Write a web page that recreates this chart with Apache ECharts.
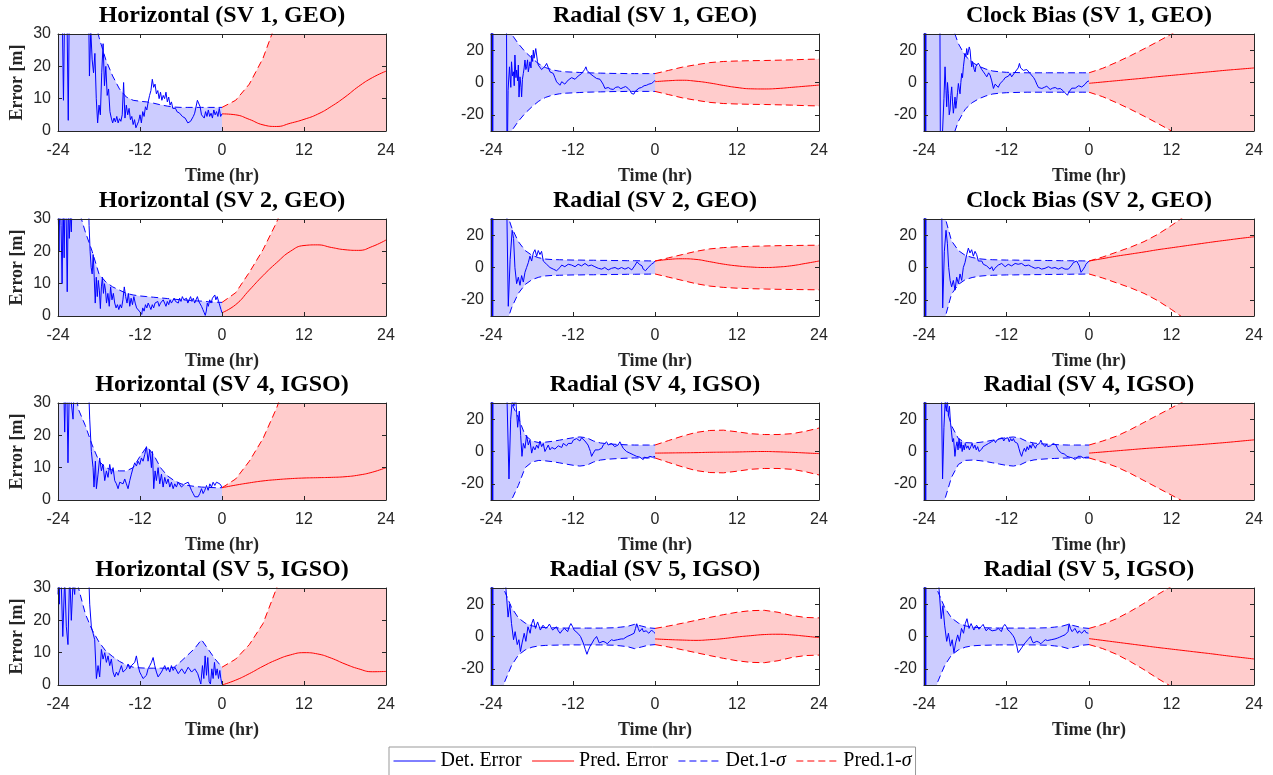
<!DOCTYPE html>
<html><head><meta charset="utf-8">
<script src="https://cdn.jsdelivr.net/npm/echarts@6/dist/echarts.min.js"></script>
<style>html,body{margin:0;padding:0;background:#fff}#c{width:1273px;height:775px}</style>
</head><body><div id="c"></div>
<script>
// ---------------- DATA ----------------
const titles = ['Horizontal (SV 1, GEO)','Radial (SV 1, GEO)','Clock Bias (SV 1, GEO)',
  'Horizontal (SV 2, GEO)','Radial (SV 2, GEO)','Clock Bias (SV 2, GEO)',
  'Horizontal (SV 4, IGSO)','Radial (SV 4, IGSO)','Radial (SV 4, IGSO)',
  'Horizontal (SV 5, IGSO)','Radial (SV 5, IGSO)','Radial (SV 5, IGSO)'];
const kinds = ['h','r','r','h','r','r','h','r','r','h','r','r'];
const xTicks = [-24,-12,0,12,24];
const yTicksH = [0,10,20,30];
const yTicksR = [-20,0,20];
const detTime = [-24,-23,-22,-21,-20,-19,-18,-17,-16,-15,-14,-13,-12,-11,-10,-9,-8,-7,-6,-5,-4,-3,-2,-1,0];
const predTime = [0,2,4,6,8,10,12,14,16,18,20,22,24];

// 1-sigma of determination (hourly, -24..0)
const detSig1 = [200,150,110,80,55,38,29,22,17,13,10.5,9.5,9.2,9,8.6,8.1,7.7,7.4,7.3,7.3,7.3,7.3,7.3,7.3,7.3];
const detSig2 = [150,90,50,30,24,19,15,11.5,9.2,7.8,7,6.6,6.4,6.2,6,5.9,5.8,5.7,5.6,5.6,5.5,5.5,5.5,5.5,5.5];
const detSig3 = [150,90,55,42,36,24,16.5,12.5,10,8.3,7.1,6.6,6.3,6.2,6.1,6,6,6,6,6,6,6,6,6,6];
const detSig4 = [150,100,60,33,26,20,13,10.5,9,8,7,6.5,6.2,6,5.8,5.6,5.4,5.2,5,4.9,4.7,4.6,4.4,4.3,4.2];
const detSig5 = [150,90,38,25,16,10.5,7.5,6,5.2,4.9,4.8,4.7,4.6,4.6,4.5,4.5,4.4,4.4,4.3,4.3,4.2,4.2,4.1,4.1,4];
const detSig6 = [150,90,50,32,16.5,10.5,7.5,6.2,5.4,5,4.8,4.7,4.6,4.6,4.5,4.5,4.4,4.4,4.3,4.3,4.2,4.2,4.1,4.1,4];
const detSig7 = [150,90,40,28,23,17,12,10,9.2,9,9,10,13.5,16.5,14,10,7.5,6,5,4.5,4.2,4,3.9,3.8,3.8];
const detSig8 = [150,90,42,30,21,10,6.5,5.5,5.8,6.3,7,7.8,8.5,9,8.5,6.5,5.3,4.8,4.5,4.3,4.1,4,4,4,4];
const detSig9 = [150,90,45,30,16,8,5.5,5.3,5.6,6.2,7,7.8,8.6,9,8.2,6.2,5.2,4.8,4.5,4.3,4.1,4,4,4,4];
const detSig10 = [150,90,40,30,22,17,13.3,10.5,8.8,7.3,6.2,5.5,5.3,5.2,5.2,5.2,5.2,5.5,7.3,9.3,11.3,14,11,8,5.5];
const detSig11 = [150,45,28,18,11.5,8.3,6.6,5.8,5.5,5.4,5.3,5.2,5.2,5.2,5.2,5.2,5.2,5.3,5.4,5.8,6.3,7.5,6.5,5.4,5];
const detSig12 = [150,45,28,18,11.5,8.3,6.6,5.8,5.5,5.4,5.3,5.2,5.2,5.2,5.2,5.2,5.2,5.3,5.4,5.8,6.3,7.5,6.5,5.4,5];

// 1-sigma of prediction (every 2 h, 0..24)
const predSig1 = [7.3,9.5,14.5,22.5,34,48,64,82,100,120,140,160,180];
const predSig2 = [5.5,7.5,9.5,11,12.3,13,13.3,13.5,13.6,13.8,14,14.3,14.5];
const predSig3 = [6,8.8,12.5,16.5,20.8,25.3,30,35,40,45,50,55,60];
const predSig4 = [4.2,7.2,13.5,20.5,29,40,52,65,79,94,110,126,142];
const predSig5 = [4,6,8,10,11.5,12.3,12.8,13.1,13.3,13.5,13.6,13.7,13.8];
const predSig6 = [4,6.5,9.5,12.5,16,20.5,26,32,38,44,50,56,62];
const predSig7 = [3.8,6.5,12,19,28.5,40,53,67,82,98,115,132,150];
const predSig8 = [4,6.8,9.5,11.8,13,13.2,12.2,11,10.5,10.5,11,12.5,14.5];
const predSig9 = [4,6.5,9.5,13.5,18,22.5,27,31.5,36,41,46,51,57];
const predSig10 = [5.5,8,12.5,19,30,42,56,71,87,104,122,140,160];
const predSig11 = [5,6.5,8.2,10,11.8,13.5,15,16,16.2,15,13,11.8,11.5];
const predSig12 = [5,7.5,11,15.5,20.5,26,31,37,43,49,55,61,68];

// prediction error (every 2 h, 0..24)
const predErr1 = [5.3,5.0,3.6,1.9,1.4,2.4,3.6,5.2,7.6,10.5,13.8,16.5,18.5];
const predErr2 = [0.5,1.1,1.4,0.8,-0.3,-1.8,-3.1,-3.9,-4.0,-3.7,-3.0,-2.3,-1.6];
const predErr3 = [-0.5,0.3,1.1,1.9,2.7,3.6,4.4,5.2,6.0,6.8,7.6,8.3,9.0];
const predErr4 = [1.0,3.5,8.0,12.5,16.5,20.0,21.8,22.0,21.2,20.5,20.3,21.5,23.5];
const predErr5 = [4.0,5.0,5.4,5.0,3.6,2.1,1.0,0.3,0.0,0.3,1.1,2.5,4.0];
const predErr6 = [4,5.5,7,8.3,9.6,11,12.2,13.4,14.6,15.8,16.9,18,19];
const predErr7 = [3.8,4.6,5.3,5.9,6.3,6.6,6.8,6.9,7.0,7.2,7.7,8.6,10.0];
const predErr8 = [-1,-0.9,-0.8,-0.7,-0.5,-0.4,-0.3,-0.1,0,-0.2,-0.5,-0.9,-1.3];
const predErr9 = [-1,-0.3,0.4,1.1,1.8,2.4,3.0,3.6,4.2,4.9,5.6,6.4,7.2];
const predErr10 = [0,1.5,3.5,5.8,7.8,9.3,10,9.6,8.3,6.5,5,4.1,4.2];
const predErr11 = [-1.5,-1.9,-2.2,-2.4,-2.0,-1.3,-0.3,0.5,1.2,1.4,1.0,0.2,-0.7];
const predErr12 = [-1.3,-2.4,-3.5,-4.6,-5.7,-6.8,-7.8,-8.8,-9.8,-10.8,-11.9,-12.9,-13.9];

// determination error [time (h), value]
const detErr1 = [[-24,45],[-23.4,40],[-23.2,9.5],[-23.0,42],[-22.7,38],[-22.5,3.3],[-22.3,50],[-21,70],[-20,55],[-19.5,35],[-19.4,17],[-19.2,31],[-19.0,22],[-18.8,18],[-18.6,24],[-18.4,10],[-18.2,2.5],[-18.0,8],[-17.8,5],[-17.6,18],[-17.4,27],[-17.2,14],[-17.0,20],[-16.8,11],[-16.6,13],[-16.4,6],[-16.2,4],[-16.0,2.5],[-15.8,4],[-15.6,2.8],[-15.4,4.5],[-15.2,2.5],[-15.0,3.8],[-14.8,3],[-14.6,5],[-14.4,15],[-14.2,4],[-14.0,8],[-13.8,5],[-13.6,7],[-13.4,3.5],[-13.2,4.5],[-13.0,2],[-12.8,3.5],[-12.6,1],[-12.4,0.5],[-12.2,3],[-12.0,5],[-11.8,2.5],[-11.6,6],[-11.4,4.5],[-11.2,7.5],[-11.0,6.5],[-10.8,9],[-10.6,11],[-10.4,12.5],[-10.2,16],[-10.0,13.5],[-9.8,14.5],[-9.6,11.5],[-9.4,12.5],[-9.2,10],[-9.0,12],[-8.8,9.5],[-8.6,11],[-8.4,10],[-8.2,12],[-8.0,9],[-7.8,10.5],[-7.6,8],[-7.4,9],[-7.2,7],[-7.0,6.5],[-6.8,7],[-6.6,6],[-6.4,6.5],[-6.2,5.5],[-6.0,5],[-5.8,4.5],[-5.6,4.8],[-5.4,4],[-5.2,3.5],[-5.0,2.5],[-4.8,2],[-4.6,3],[-4.4,3.5],[-4.2,4.5],[-4.0,5.5],[-3.8,6],[-3.6,9.5],[-3.4,10],[-3.2,7.5],[-3.0,5],[-2.8,5.5],[-2.6,4],[-2.4,6],[-2.2,4.5],[-2.0,6.5],[-1.8,4.5],[-1.6,5.5],[-1.4,4],[-1.2,6.5],[-1.0,5],[-0.8,6],[-0.6,4.5],[-0.4,7],[-0.2,4.5],[0,5.3]];
const detErr2 = [[-24,60],[-23.95,-60],[-23.9,60],[-23.85,-60],[-23.8,60],[-23.75,-60],[-23.7,50],[-22,55],[-21.75,60],[-21.65,-60],[-21.5,-5],[-21.3,9.7],[-21.1,-3],[-21.0,12.8],[-20.85,4],[-20.7,6.6],[-20.6,-2],[-20.5,17],[-20.35,3],[-20.25,7.7],[-20.1,1],[-20.0,10.8],[-19.9,-9],[-19.76,3.5],[-19.6,-3],[-19.52,-8.9],[-19.4,2],[-19.27,5.6],[-19.15,9],[-19.03,13.9],[-18.9,8],[-18.79,9.7],[-18.65,14],[-18.54,6.6],[-18.4,10],[-18.3,12.8],[-18.15,9],[-18.05,17],[-17.9,13],[-17.81,20],[-17.7,15],[-17.57,16],[-17.45,21],[-17.32,20],[-17.2,13],[-17.08,10.8],[-16.95,12],[-16.84,9.7],[-16.6,8],[-16.35,7.7],[-16.1,10],[-15.86,11.8],[-15.6,9],[-15.37,6.6],[-15.1,7.5],[-14.89,5.6],[-14.65,3],[-14.4,0.4],[-14.15,1.5],[-13.91,-1.7],[-13.65,0.5],[-13.42,0.4],[-13.2,-1],[-12.94,-0.6],[-12.7,1.5],[-12.45,1.4],[-12.2,3],[-11.96,3.9],[-11.7,2],[-11.48,2.5],[-11.25,4],[-10.99,4.6],[-10.75,5.5],[-10.5,6.6],[-10.3,8],[-10.11,9.7],[-9.95,7.5],[-9.77,6.6],[-9.5,5.5],[-9.28,5.2],[-9.05,4],[-8.8,3.5],[-8.55,2.5],[-8.31,1.4],[-8.05,2],[-7.82,1.4],[-7.6,-1],[-7.33,-3.7],[-7.1,-2.5],[-6.85,-3.1],[-6.5,-4],[-6.12,-4.3],[-5.75,-3],[-5.38,-2.7],[-5.0,-3.8],[-4.65,-3.1],[-4.3,-2.5],[-3.92,-3.7],[-3.65,-5],[-3.43,-6.8],[-3.09,-7.2],[-2.9,-5.5],[-2.7,-4.3],[-2.35,-3.5],[-1.97,-3.1],[-1.6,-2],[-1.24,-1.7],[-0.9,-1],[-0.51,-0.6],[-0.2,0.4],[0,1.4]];
const detErr3 = [[-24,60],[-23.95,-60],[-23.9,60],[-23.85,-60],[-23.8,60],[-23.75,-60],[-23.7,50],[-21.7,55],[-21.6,-60],[-21.4,-40],[-21.1,-10],[-20.94,9.7],[-20.8,-5],[-20.7,-15],[-20.58,0],[-20.46,-7],[-20.33,-20],[-20.21,-17],[-20.1,-8],[-19.97,-2.7],[-19.85,-12],[-19.73,-19],[-19.6,-14],[-19.49,-9],[-19.37,-16],[-19.24,-11],[-19.12,-6],[-19.0,-0.6],[-18.88,-4],[-18.76,-7],[-18.64,0],[-18.51,5.6],[-18.4,3],[-18.27,9.7],[-18.15,14],[-18.03,18],[-17.9,16],[-17.79,21],[-17.65,17],[-17.54,16],[-17.42,22],[-17.3,20],[-17.18,14],[-17.06,9.7],[-16.94,13],[-16.82,11.8],[-16.7,8],[-16.57,6.6],[-16.45,10],[-16.33,9.7],[-16.1,12],[-15.84,10.8],[-15.6,8],[-15.36,6.6],[-15.1,5],[-14.87,3.5],[-14.6,6],[-14.39,4.6],[-14.15,1],[-13.9,-3.7],[-13.65,-1],[-13.42,-1.7],[-13.2,-3],[-12.93,-0.6],[-12.7,0.5],[-12.45,1.4],[-12.2,3],[-11.96,2.5],[-11.7,4],[-11.48,5.6],[-11.25,3.5],[-10.99,4.6],[-10.75,6.5],[-10.5,7.7],[-10.3,9],[-10.12,11.8],[-9.95,9],[-9.78,8.7],[-9.55,7.5],[-9.29,6.6],[-9.05,8],[-8.81,7.2],[-8.55,5.5],[-8.32,4.6],[-8.05,3],[-7.83,1.4],[-7.6,-1],[-7.35,-3.1],[-7.1,-2],[-6.86,-3.7],[-6.5,-3],[-6.14,-2.3],[-5.9,-3.5],[-5.65,-4.3],[-5.3,-3.5],[-4.92,-3.1],[-4.55,-4],[-4.19,-3.7],[-3.8,-5],[-3.47,-6.4],[-3.13,-7.9],[-2.95,-6],[-2.74,-4.8],[-2.5,-3.5],[-2.25,-2.3],[-2.0,-3.5],[-1.77,-3.1],[-1.5,-2],[-1.29,-1.7],[-1.05,-2.8],[-0.8,-2.3],[-0.55,-1],[-0.31,0.4],[-0.1,-0.5],[0,1]];
const detErr4 = [[-24,35],[-23.85,20],[-23.7,40],[-23.55,28],[-23.4,10],[-23.25,35],[-23.1,18],[-22.95,40],[-22.8,30],[-22.65,7.5],[-22.5,35],[-22.35,24],[-22.2,32],[-22.05,26],[-21.9,40],[-21,55],[-20,50],[-19.6,40],[-19.45,28],[-19.3,20],[-19.15,15],[-19.0,13],[-18.85,19],[-18.7,12],[-18.55,4],[-18.4,12],[-18.25,6],[-18.1,11],[-17.95,8],[-17.8,2.3],[-17.65,9],[-17.5,12],[-17.35,7],[-17.2,10],[-17.05,8],[-16.9,4],[-16.7,7],[-16.5,3],[-16.3,9],[-16.1,5],[-15.9,7],[-15.7,4],[-15.5,2.5],[-15.3,3.5],[-15.1,2],[-14.9,3.5],[-14.7,2.5],[-14.5,5],[-14.3,9],[-14.1,6],[-13.9,4],[-13.7,7],[-13.5,3],[-13.3,5.5],[-13.1,3.5],[-12.9,6],[-12.7,4],[-12.5,2.5],[-12.3,3],[-12.1,1.5],[-11.9,2],[-11.75,0.5],[-11.6,2.5],[-11.4,1.5],[-11.2,3.5],[-11.0,2.5],[-10.8,4],[-10.6,3],[-10.4,2],[-10.2,3.5],[-10.0,2.5],[-9.8,4],[-9.6,3.5],[-9.4,4.5],[-9.2,3],[-9.0,4],[-8.8,3.5],[-8.6,5],[-8.4,4],[-8.2,3],[-8.0,4.5],[-7.8,3.5],[-7.6,5],[-7.4,4],[-7.2,4.5],[-7.0,5.5],[-6.8,4.5],[-6.6,5],[-6.4,4],[-6.2,5.5],[-6.0,4.5],[-5.8,6],[-5.6,5],[-5.4,4.5],[-5.2,5.5],[-5.0,4],[-4.8,5],[-4.6,6],[-4.4,4.5],[-4.2,5.5],[-4.0,4],[-3.8,5],[-3.6,6],[-3.4,4.5],[-3.2,4],[-3.0,3],[-2.8,2],[-2.6,1],[-2.45,0.2],[-2.3,1.5],[-2.15,4],[-2.0,3],[-1.8,5],[-1.6,4],[-1.4,5.5],[-1.2,5],[-1.05,6.5],[-0.9,5],[-0.7,6],[-0.5,4.5],[-0.3,5],[-0.15,2],[0,1]];
const detErr5 = [[-24,60],[-23.95,-60],[-23.9,60],[-23.85,-60],[-23.8,60],[-23.75,-60],[-23.7,50],[-22,50],[-21.7,40],[-21.47,-24],[-21.2,5],[-20.9,23],[-20.7,18],[-20.5,0],[-20.25,-10],[-20.0,-6],[-19.76,-11],[-19.52,-5],[-19.27,-9],[-19.03,-3],[-18.79,0],[-18.54,3],[-18.3,7],[-18.05,4],[-17.81,9],[-17.57,11],[-17.32,7],[-17.08,10.5],[-16.84,8],[-16.6,10],[-16.35,4],[-16.1,5],[-15.86,2],[-15.6,3],[-15.37,0],[-15.1,1],[-14.89,-1],[-14.65,0],[-14.4,-2],[-14.15,-1],[-13.91,0],[-13.65,1.5],[-13.42,2],[-13.2,0.5],[-12.94,1],[-12.7,2],[-12.45,3],[-12.2,1.5],[-11.96,2],[-11.7,0.5],[-11.48,1],[-11.25,2],[-10.99,2.5],[-10.75,1],[-10.5,1],[-10.25,2.5],[-10.01,2],[-9.75,1],[-9.53,0.5],[-9.3,1.5],[-9.04,2],[-8.8,0.5],[-8.55,1],[-8.3,-0.5],[-8.06,0],[-7.8,-1],[-7.58,-1.5],[-7.35,0],[-7.09,-0.5],[-6.85,-1.5],[-6.6,-2],[-6.35,-0.5],[-6.11,-1],[-5.85,0],[-5.63,-0.5],[-5.4,-1],[-5.14,-1.5],[-4.9,0],[-4.65,-0.5],[-4.4,-1],[-4.17,-1.5],[-3.9,0],[-3.68,-0.5],[-3.4,-1.5],[-3.19,-1],[-2.98,1],[-2.8,2],[-2.62,3.5],[-2.46,4],[-2.3,2],[-2.12,3],[-1.9,1],[-1.73,-1],[-1.55,-0.5],[-1.39,-2],[-1.2,-1],[-1.0,0],[-0.75,1],[-0.51,2],[-0.3,1.5],[-0.17,3],[0,4]];
const detErr6 = [[-24,60],[-23.95,-60],[-23.9,60],[-23.85,-60],[-23.8,60],[-23.75,-60],[-23.7,50],[-21.5,50],[-21.43,40],[-21.28,-25],[-21.04,10],[-20.8,23],[-20.6,15],[-20.41,0],[-20.2,-8],[-19.98,-12],[-19.73,-8],[-19.49,-14],[-19.25,-6],[-19.0,-10],[-18.76,-4],[-18.52,-8],[-18.28,0],[-18.04,3],[-17.79,8],[-17.55,12],[-17.31,9],[-17.07,11],[-16.82,7],[-16.58,10],[-16.34,8],[-16.1,4],[-15.85,3],[-15.6,4],[-15.37,2],[-15.1,2.5],[-14.88,1],[-14.6,0],[-14.4,-1],[-14.15,0.5],[-13.92,-2],[-13.7,-0.5],[-13.43,0],[-13.2,1.5],[-12.95,1],[-12.7,2.5],[-12.46,2],[-12.2,0.5],[-11.98,1],[-11.75,2],[-11.49,2.5],[-11.25,1],[-11.01,1.5],[-10.75,2.5],[-10.52,3],[-10.3,2],[-10.04,1.5],[-9.8,2.5],[-9.55,2],[-9.3,1],[-9.07,0.5],[-8.8,1.5],[-8.58,1.5],[-8.35,0.5],[-8.1,0],[-7.85,-0.5],[-7.61,-1],[-7.35,0],[-7.13,0],[-6.9,-1],[-6.64,-1.5],[-6.4,-0.5],[-6.16,-0.5],[-5.9,0.5],[-5.67,0.5],[-5.45,-0.5],[-5.19,-1],[-4.95,0],[-4.7,0],[-4.45,-1],[-4.22,-1.5],[-3.95,0],[-3.73,-0.5],[-3.5,-1],[-3.25,-2],[-3.0,-1],[-2.76,0],[-2.5,1.5],[-2.28,3],[-2.0,3.5],[-1.79,4],[-1.6,2.5],[-1.41,1],[-1.16,-3],[-1.0,-2],[-0.82,-1],[-0.6,0.5],[-0.44,2],[-0.2,3],[0,4]];
const detErr7 = [[-24,45],[-23.5,50],[-23.2,40],[-23.02,21],[-22.78,45],[-22.54,11.5],[-22.3,40],[-22.05,30],[-21.8,25],[-21.56,40],[-20.5,60],[-19.6,40],[-19.36,25],[-19.12,15],[-18.87,10],[-18.73,4],[-18.53,12],[-18.38,3.5],[-18.14,8],[-17.9,13],[-17.65,9],[-17.41,11],[-17.16,6],[-16.92,9],[-16.68,7],[-16.43,11],[-16.19,8],[-15.94,10],[-15.7,6],[-15.45,5],[-15.21,3.5],[-14.97,5.5],[-14.72,6],[-14.48,5],[-14.23,6.5],[-13.99,5],[-13.75,3.5],[-13.5,6],[-13.26,8],[-13.01,10],[-12.77,11.5],[-12.53,10.5],[-12.28,12],[-12.04,11],[-11.79,13],[-11.55,12],[-11.31,14],[-11.06,16.5],[-10.82,12],[-10.57,15.5],[-10.33,10],[-10.18,15],[-9.99,3.5],[-9.79,9],[-9.6,6],[-9.35,10],[-9.11,5],[-8.86,8],[-8.62,4],[-8.38,7],[-8.13,5],[-7.89,6.5],[-7.64,4],[-7.4,5.5],[-7.15,3.5],[-6.91,5],[-6.67,4],[-6.42,5.5],[-6.18,5],[-5.93,4],[-5.69,3.5],[-5.45,5],[-5.2,4.5],[-4.95,5.5],[-4.71,6],[-4.47,3],[-4.22,2],[-3.98,1],[-3.74,1.5],[-3.5,1],[-3.25,2],[-3.0,3.5],[-2.76,2],[-2.52,3],[-2.27,4.5],[-2.03,3],[-1.78,5],[-1.54,4],[-1.3,5.5],[-1.05,4.5],[-0.81,5.5],[-0.56,6],[-0.32,5],[0,4]];
const detErr8 = [[-24,60],[-23.95,-60],[-23.9,60],[-23.85,-60],[-23.8,60],[-23.75,-60],[-23.7,50],[-22,50],[-21.7,40],[-21.37,-17],[-21.12,20],[-20.88,32],[-20.64,28],[-20.39,33],[-20.1,15],[-19.86,25],[-19.66,10],[-19.47,-3],[-19.27,5],[-19.03,2],[-18.79,10],[-18.54,4],[-18.3,7],[-18.05,-1],[-17.81,3],[-17.57,1],[-17.32,4],[-17.08,2],[-16.84,6.5],[-16.59,3],[-16.35,5],[-16.11,0],[-15.86,2],[-15.62,4],[-15.37,1],[-15.1,2.5],[-14.89,3],[-14.65,1.5],[-14.4,2],[-14.15,3.5],[-13.91,4],[-13.65,2.5],[-13.42,5],[-13.2,4],[-12.94,3.5],[-12.7,5],[-12.45,6],[-12.2,5],[-11.96,7],[-11.7,6],[-11.48,8],[-11.25,7],[-10.99,6.5],[-10.75,8.5],[-10.5,8],[-10.25,6.5],[-10.01,6],[-9.8,4],[-9.62,2],[-9.45,0],[-9.28,-3],[-9.1,-1.5],[-8.94,-1],[-8.75,1],[-8.55,2],[-8.3,1],[-8.06,0],[-7.8,2],[-7.58,4],[-7.35,3],[-7.09,6],[-6.85,4],[-6.6,3],[-6.35,5],[-6.12,4],[-5.9,3],[-5.63,2.5],[-5.4,4],[-5.14,6],[-4.9,4],[-4.65,2],[-4.4,1],[-4.17,0],[-3.9,-0.5],[-3.68,-1],[-3.45,-1.5],[-3.19,-2],[-2.95,-2.5],[-2.7,-3],[-2.45,-2.5],[-2.22,-3.5],[-2.0,-4],[-1.73,-5],[-1.55,-3.5],[-1.34,-3],[-1.15,-4],[-0.95,-4],[-0.75,-3],[-0.56,-2.5],[-0.35,-3.5],[-0.17,-4],[0,-3]];
const detErr9 = [[-24,60],[-23.95,-60],[-23.9,60],[-23.85,-60],[-23.8,60],[-23.75,-60],[-23.7,50],[-21.5,50],[-21.3,-17],[-21.1,15],[-20.9,33],[-20.75,25],[-20.6,32],[-20.45,22],[-20.3,28],[-20.15,18],[-20.0,12],[-19.85,6],[-19.7,8],[-19.5,-3],[-19.35,3],[-19.2,6],[-19.05,1],[-18.9,8],[-18.75,2],[-18.6,6],[-18.45,0],[-18.3,4],[-18.15,1],[-18.0,5],[-17.8,2],[-17.6,3.5],[-17.4,1],[-17.2,3],[-17.0,5],[-16.8,2],[-16.6,4],[-16.4,1],[-16.2,3],[-16.0,0],[-15.8,-1],[-15.6,1.5],[-15.4,3],[-15.2,2],[-15.0,4],[-14.8,3],[-14.6,5],[-14.4,4],[-14.2,6],[-14.0,5],[-13.8,7],[-13.6,5.5],[-13.4,7],[-13.2,6],[-13.0,8],[-12.8,7],[-12.6,8.5],[-12.4,6.5],[-12.2,8],[-12.0,7],[-11.8,8.5],[-11.6,6],[-11.4,8],[-11.2,6.5],[-11.0,8],[-10.8,6],[-10.6,7],[-10.4,5],[-10.2,2],[-10.0,-1],[-9.8,-3],[-9.6,0],[-9.4,2],[-9.2,0],[-9.0,3],[-8.8,1],[-8.6,4],[-8.4,2],[-8.2,5],[-8.0,4],[-7.8,2],[-7.6,4],[-7.4,3],[-7.2,5],[-7.0,7],[-6.8,5],[-6.6,4],[-6.4,3],[-6.2,4.5],[-6.0,3],[-5.8,2],[-5.6,3.5],[-5.4,4],[-5.2,5],[-5.0,6],[-4.8,4],[-4.6,2],[-4.4,0.5],[-4.2,-0.5],[-4.0,-1],[-3.8,-2],[-3.6,-1.5],[-3.4,-2.5],[-3.2,-3],[-3.0,-2.5],[-2.8,-3.5],[-2.6,-3],[-2.4,-4],[-2.2,-4.5],[-2.0,-5],[-1.8,-4],[-1.6,-3],[-1.4,-4],[-1.2,-3],[-1.0,-3.5],[-0.8,-4],[-0.6,-3],[-0.4,-3.5],[-0.2,-4],[0,-3.5]];
const detErr10 = [[-24,28],[-23.9,35],[-23.8,25],[-23.7,40],[-23.5,30],[-23.3,15],[-23.02,33],[-22.78,18],[-22.54,12.5],[-22.29,35],[-22.05,20],[-21.8,32],[-21.56,28],[-21.3,40],[-20.5,60],[-19.6,40],[-19.36,25],[-19.12,18],[-18.87,16],[-18.63,14],[-18.38,2],[-18.14,6],[-17.9,2.5],[-17.65,11],[-17.41,8],[-17.16,10],[-16.92,7],[-16.68,9],[-16.43,6],[-16.19,8],[-15.94,4],[-15.7,2.5],[-15.45,4],[-15.21,3],[-14.97,4.5],[-14.72,6],[-14.48,4],[-14.23,3.5],[-13.99,5],[-13.74,6.5],[-13.5,5],[-13.26,6],[-13.01,5.5],[-12.77,7],[-12.53,9],[-12.28,6],[-12.04,4],[-11.79,3],[-11.55,2],[-11.3,1.5],[-11.06,3],[-10.82,5],[-10.57,6],[-10.33,7],[-10.08,8.5],[-9.84,6],[-9.6,4],[-9.35,2.5],[-9.11,2],[-8.86,4],[-8.62,5],[-8.38,6],[-8.13,4.5],[-7.89,5.5],[-7.64,4],[-7.4,6],[-7.15,4.5],[-6.9,5.5],[-6.67,5],[-6.4,3.5],[-6.18,4],[-5.9,5],[-5.69,5.5],[-5.45,3.5],[-5.2,4],[-4.95,5.5],[-4.71,5],[-4.45,4],[-4.22,3.5],[-3.98,5],[-3.74,4.5],[-3.55,3.5],[-3.35,3],[-3.1,0.3],[-2.86,6],[-2.66,2],[-2.47,9],[-2.27,3],[-2.08,8.5],[-1.88,1],[-1.69,0.3],[-1.49,5],[-1.3,2],[-1.1,7],[-0.9,3],[-0.71,5],[-0.51,2],[-0.32,4.5],[-0.17,2],[0,0.2]];
const detErr11 = [[-24,60],[-23.95,-60],[-23.9,60],[-23.85,-60],[-23.8,60],[-23.75,-60],[-23.7,50],[-22.2,50],[-21.73,25],[-21.5,12],[-21.25,20],[-21.0,8],[-20.7,-2],[-20.47,3],[-20.16,-5],[-19.92,-2],[-19.69,-9.3],[-19.45,-4],[-19.14,2],[-18.9,-3],[-18.59,6],[-18.27,2],[-18.04,8],[-17.8,10.8],[-17.49,5],[-17.18,9],[-16.78,4],[-16.39,7],[-16.0,5],[-15.7,6],[-15.45,7.7],[-15.2,5.5],[-14.98,4],[-14.7,5],[-14.43,6],[-14.15,3.5],[-13.88,2],[-13.55,4],[-13.25,5],[-13.0,4],[-12.78,3],[-12.55,6],[-12.31,8],[-12.05,6],[-11.84,4],[-11.55,3],[-11.29,2],[-11.1,1],[-10.9,0],[-10.5,-4],[-10.2,-8],[-9.96,-11],[-9.75,-8.5],[-9.49,-6],[-9.2,-4],[-8.94,-2],[-8.75,-1],[-8.55,0],[-8.35,-2],[-8.16,-4],[-7.9,-4.5],[-7.61,-3],[-7.3,-3.5],[-6.98,-4.5],[-6.65,-3],[-6.35,-2],[-6.05,-2.5],[-5.8,-3],[-5.5,-2],[-5.25,-1],[-4.95,-1.5],[-4.63,-1.5],[-4.35,-0.5],[-4.08,0],[-3.8,0.5],[-3.53,1],[-3.3,1.5],[-3.06,2],[-2.85,5],[-2.67,7.9],[-2.45,5],[-2.27,3],[-2.05,4],[-1.88,5],[-1.7,3],[-1.49,2],[-1.3,3.5],[-1.1,4],[-0.9,2],[-0.71,2.5],[-0.5,4],[-0.31,3.5],[-0.15,2.5],[0,2]];
const detErr12 = [[-24,60],[-23.95,-60],[-23.9,60],[-23.85,-60],[-23.8,60],[-23.75,-60],[-23.7,50],[-22.2,50],[-21.75,26],[-21.5,11],[-21.25,19],[-21.0,7],[-20.7,-3],[-20.45,2],[-20.15,-6],[-19.9,-2],[-19.65,-10],[-19.4,-4],[-19.1,1],[-18.85,-3],[-18.55,5],[-18.25,2],[-18.0,8],[-17.75,11],[-17.45,5],[-17.15,8],[-16.75,4],[-16.35,7],[-16.0,4.5],[-15.7,6],[-15.4,7.5],[-15.15,5],[-14.95,3.5],[-14.65,5],[-14.4,6],[-14.1,3.5],[-13.85,2.5],[-13.5,4],[-13.2,5],[-12.95,4],[-12.75,3],[-12.5,6],[-12.25,7.5],[-12.0,6],[-11.8,4],[-11.5,3],[-11.25,2],[-11.05,0.5],[-10.85,-1],[-10.55,-5],[-10.3,-10],[-10.05,-9],[-9.8,-7],[-9.5,-5],[-9.2,-3.5],[-8.9,-2],[-8.7,-1],[-8.5,0],[-8.3,-2.5],[-8.1,-4],[-7.85,-4.5],[-7.6,-3],[-7.3,-3.5],[-7.0,-4.5],[-6.65,-3],[-6.35,-2],[-6.05,-2.5],[-5.8,-3],[-5.5,-2],[-5.25,-1],[-4.95,-1.5],[-4.6,-1],[-4.3,-0.5],[-4.05,0],[-3.8,0.5],[-3.5,1],[-3.25,2],[-3.05,3],[-2.9,7.9],[-2.7,5],[-2.45,3],[-2.25,4],[-2.05,5],[-1.85,3.5],[-1.65,2],[-1.45,3.5],[-1.25,4],[-1.05,2],[-0.85,3],[-0.65,4],[-0.45,2.5],[-0.25,3.5],[-0.1,2],[0,2]];

// ---------------- CHART ----------------
const detErrs = [detErr1,detErr2,detErr3,detErr4,detErr5,detErr6,detErr7,detErr8,detErr9,detErr10,detErr11,detErr12];
const detSigs = [detSig1,detSig2,detSig3,detSig4,detSig5,detSig6,detSig7,detSig8,detSig9,detSig10,detSig11,detSig12];
const predSigs = [predSig1,predSig2,predSig3,predSig4,predSig5,predSig6,predSig7,predSig8,predSig9,predSig10,predSig11,predSig12];
const predErrs = [predErr1,predErr2,predErr3,predErr4,predErr5,predErr6,predErr7,predErr8,predErr9,predErr10,predErr11,predErr12];

const COL_LEFT = [58, 491, 924], COL_W = [328, 328, 330];
const ROW_TOP = [34, 219, 403, 588], PLOT_H = 97;
const SANS = 'Liberation Sans, Arial, Helvetica, sans-serif';
const SERIF = 'Liberation Serif, Times New Roman, serif';
const AX = '#262626';
const BLUE = '#0000ff', RED = '#ff0000';
const BLUE_FILL = 'rgb(204,204,255)', RED_FILL = 'rgb(255,204,204)';

const grid = [], xAxis = [], yAxis = [], title = [], series = [];

function band(gi, ts, up, lo, fill) {
  return {
    type: 'custom', xAxisIndex: 2*gi, yAxisIndex: 2*gi, silent: true, z: 1,
    data: [[0, 0]],
    renderItem: function (params, api) {
      const pts = [];
      for (let k = 0; k < ts.length; k++) pts.push(api.coord([ts[k], up[k]]));
      for (let k = ts.length - 1; k >= 0; k--) pts.push(api.coord([ts[k], lo[k]]));
      const cs = params.coordSys;
      return {
        type: 'polygon', shape: { points: pts }, style: { fill: fill, stroke: null },
        clipPath: { type: 'rect', shape: { x: cs.x, y: cs.y, width: cs.width, height: cs.height } }
      };
    }
  };
}
function line(gi, name, data, color, dashed, z, smooth) {
  return {
    type: 'line', name: name, xAxisIndex: 2*gi, yAxisIndex: 2*gi, data: data,
    symbol: 'none', showSymbol: false, smooth: !!smooth, z: z, clip: true, silent: true,
    color: color, itemStyle: { color: color },
    lineStyle: { color: color, width: 1, type: dashed ? [7, 4] : 'solid' }
  };
}

for (let i = 0; i < 12; i++) {
  const r = Math.floor(i / 3), c = i % 3;
  const isH = kinds[i] === 'h';
  grid.push({ left: COL_LEFT[c], top: ROW_TOP[r], width: COL_W[c], height: PLOT_H });
  title.push({
    text: titles[i], left: COL_LEFT[c] + COL_W[c] / 2, top: ROW_TOP[r] - 30, textAlign: 'center', padding: 0,
    textStyle: { fontFamily: SERIF, fontWeight: 'bold', fontSize: 24, color: '#000' }
  });
  const axLine = { show: true, onZero: false, lineStyle: { color: AX, width: 1 } };
  xAxis.push({
    gridIndex: i, type: 'value', min: -24, max: 24, interval: 12, position: 'bottom', z: 10,
    axisLine: axLine,
    axisTick: { show: true, inside: true, length: 4, lineStyle: { color: AX }, customValues: xTicks },
    axisLabel: { show: true, margin: 12, fontFamily: SANS, fontSize: 16, color: AX, customValues: xTicks },
    splitLine: { show: false },
    name: 'Time (hr)', nameLocation: 'middle', nameGap: 36,
    nameTextStyle: { fontFamily: SERIF, fontWeight: 'bold', fontSize: 18, color: AX }
  });
  xAxis.push({
    gridIndex: i, type: 'value', min: -24, max: 24, interval: 12, position: 'top', z: 10,
    axisLine: axLine,
    axisTick: { show: true, inside: true, length: 4, lineStyle: { color: AX }, customValues: xTicks },
    axisLabel: { show: false }, splitLine: { show: false }
  });
  const yt = isH ? yTicksH : yTicksR;
  const yMin = isH ? 0 : -30, yMax = 30;
  const yl = {
    gridIndex: i, type: 'value', min: yMin, max: yMax, position: 'left', z: 10,
    axisLine: axLine,
    axisTick: { show: true, inside: true, length: 4, lineStyle: { color: AX }, customValues: yt },
    axisLabel: { show: true, margin: 7, fontFamily: SANS, fontSize: 16, color: AX, customValues: yt },
    splitLine: { show: false }
  };
  if (c === 0) {
    yl.name = 'Error [m]'; yl.nameLocation = 'middle'; yl.nameGap = 32;
    yl.nameTextStyle = { fontFamily: SERIF, fontWeight: 'bold', fontSize: 18, color: AX };
  }
  yAxis.push(yl);
  yAxis.push({
    gridIndex: i, type: 'value', min: yMin, max: yMax, position: 'right', z: 10,
    axisLine: axLine,
    axisTick: { show: true, inside: true, length: 4, lineStyle: { color: AX }, customValues: yt },
    axisLabel: { show: false }, splitLine: { show: false }
  });

  const ds = detSigs[i], ps = predSigs[i];
  const detUp = ds, detLo = isH ? ds.map(() => 0) : ds.map(v => -v);
  const predUp = ps, predLo = isH ? ps.map(() => 0) : ps.map(v => -v);
  series.push(band(i, detTime, detUp, detLo, BLUE_FILL));
  series.push(band(i, predTime, predUp, predLo, RED_FILL));

  series.push(line(i, 'Det.1-σ', detTime.map((t, k) => [t, detUp[k]]), BLUE, true, 3));
  series.push(line(i, 'Pred.1-σ', predTime.map((t, k) => [t, predUp[k]]), RED, true, 3));
  if (!isH) {
    series.push(line(i, 'Det.1-σ', detTime.map((t, k) => [t, detLo[k]]), BLUE, true, 3));
    series.push(line(i, 'Pred.1-σ', predTime.map((t, k) => [t, predLo[k]]), RED, true, 3));
  }
  series.push(line(i, 'Det. Error', detErrs[i], BLUE, false, 4));
  series.push(line(i, 'Pred. Error', predTime.map((t, k) => [t, predErrs[i][k]]), RED, false, 4, true));
}

const chart = echarts.init(document.getElementById('c'), null, { renderer: 'canvas' });
chart.setOption({
  animation: false,
  backgroundColor: '#fff',
  title: title, grid: grid, xAxis: xAxis, yAxis: yAxis, series: series,
  legend: {
    data: ['Det. Error', 'Pred. Error', 'Det.1-σ', 'Pred.1-σ'],
    left: 389, top: 747, orient: 'horizontal',
    itemWidth: 42, itemHeight: 12, itemGap: 10, padding: [4, 4, 6, 4],
    borderColor: '#999', borderWidth: 1, backgroundColor: '#fff',
    selectedMode: false,
    itemStyle: { opacity: 0 },
    lineStyle: { width: 1 },
    formatter: function (name) {
      if (name.indexOf('σ') >= 0) return '{n|' + name.replace('σ', '') + '}{i|σ}';
      return '{n|' + name + '}';
    },
    textStyle: {
      fontFamily: SERIF, fontSize: 20, color: '#000',
      rich: {
        n: { fontFamily: SERIF, fontSize: 20, color: '#000' },
        i: { fontFamily: SERIF, fontSize: 20, color: '#000', fontStyle: 'italic' }
      }
    }
  }
});
</script></body></html>
